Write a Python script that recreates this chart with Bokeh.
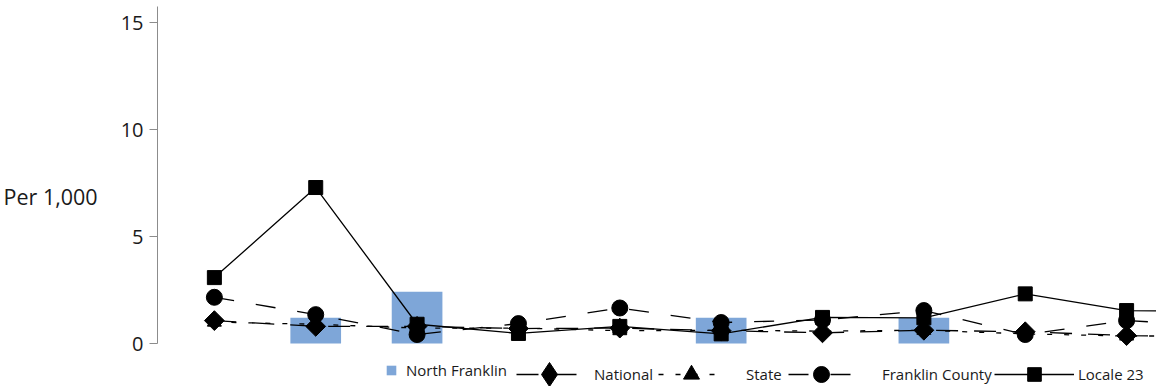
import math
from bokeh.plotting import figure
from bokeh.models import Range1d, FixedTicker, Legend, LegendItem
from bokeh.embed import file_html
from bokeh.resources import INLINE

nan = float("nan")

# ---- data ----
north_franklin = [nan, 1.2, 2.42, nan, nan, 1.2, nan, 1.2, nan, nan, nan]
national = [1.07, 0.8, 0.8, 0.7, 0.72, 0.6, 0.5, 0.62, 0.55, 0.37, 0.3]
state = [1.0, 0.9, 0.72, 0.72, 0.6, 0.62, 0.58, 0.62, 0.45, 0.35, 0.35]
franklin_county = [2.16, 1.35, 0.42, 0.93, 1.66, 0.98, 1.1, 1.54, 0.42, 1.07, 0.82]
locale_23 = [3.08, 7.29, 0.9, 0.47, 0.8, 0.45, 1.22, 1.2, 2.32, 1.54, 1.5]
y_ticks = [0, 5, 10, 15]
y_label = "Per 1,000"
positions = list(range(len(north_franklin)))

FONT = "Open Sans"
TEXT = "#1a1a1a"
Y_TOP = 15.75

p = figure(width=1156, height=386,
           x_range=Range1d(-0.561, 9.295), y_range=Range1d(-2.009, Y_TOP),
           x_axis_type=None, output_backend="svg", toolbar_location=None,
           min_border_left=155, min_border_right=0, min_border_top=6,
           min_border_bottom=0)
p.outline_line_color = None
p.ygrid.visible = False
p.background_fill_color = "white"

bars = p.vbar(x=positions, top=north_franklin, bottom=0, width=0.5,
              fill_color="#7EA6D8", line_color=None)

lw = 1.3
nat_l = p.line(positions, national, line_color="black", line_width=lw, line_dash="22 16")
sta_l = p.line(positions, state, line_color="black", line_width=lw, line_dash="5 12")
fra_l = p.line(positions, franklin_county, line_color="black", line_width=lw, line_dash="20 22")
loc_l = p.line(positions, locale_23, line_color="black", line_width=lw)

fra_m = p.scatter(positions, franklin_county, marker="circle", size=16, color="black")
loc_m = p.scatter(positions, locale_23, marker="square", size=14, color="black")
sta_m = p.scatter(positions, state, marker="triangle", size=14, color="black")
nat_m = p.scatter(positions, national, marker="square", angle=math.pi / 4, size=14, color="black")
# legend-only key for the diamond (legend keys are never rotated); NaN point draws nothing
nat_key = p.scatter(x=[nan], y=[nan], marker="diamond", color="black")

ax = p.yaxis[0]
ax.bounds = (0, Y_TOP)
ax.ticker = FixedTicker(ticks=y_ticks)
ax.axis_label = y_label
ax.axis_label_orientation = "horizontal"
ax.axis_label_text_font = FONT
ax.axis_label_text_font_style = "normal"
ax.axis_label_text_font_size = "21.5px"
ax.axis_label_text_color = TEXT
ax.axis_label_standoff = 20
ax.major_label_text_font = FONT
ax.major_label_text_font_size = "20px"
ax.major_label_text_color = TEXT
ax.major_label_standoff = 6
ax.axis_line_color = "#8c8c8c"
ax.major_tick_line_color = "#8c8c8c"
ax.minor_tick_line_color = None
ax.major_tick_in = 0
ax.major_tick_out = 8

# label, renderers, x (px from frame left), glyph w, glyph h, standoff
legend_specs = [
    ("North Franklin", [bars], 228, 12, 12, 9),
    ("National", [nat_l, nat_key], 359, 66, 60, 12),
    ("State", [sta_l, sta_m], 501, 66, 40, 22),
    ("Franklin County", [fra_l, fra_m], 631, 66, 40, 28),
    ("Locale 23", [loc_l, loc_m], 837, 80, 34, 4),
]
for label, rends, lx, gw, gh, st in legend_specs:
    leg = Legend(items=[LegendItem(label=label, renderers=rends)],
                 location=(lx, 12 - gh / 2), orientation="horizontal",
                 glyph_width=gw, glyph_height=gh, label_height=gh,
                 label_standoff=st, padding=0, margin=0, spacing=0,
                 border_line_color=None, background_fill_alpha=0,
                 label_text_font=FONT, label_text_font_size="15px",
                 label_text_color=TEXT)
    p.add_layout(leg)

open("out.html", "w").write(file_html(p, INLINE))
